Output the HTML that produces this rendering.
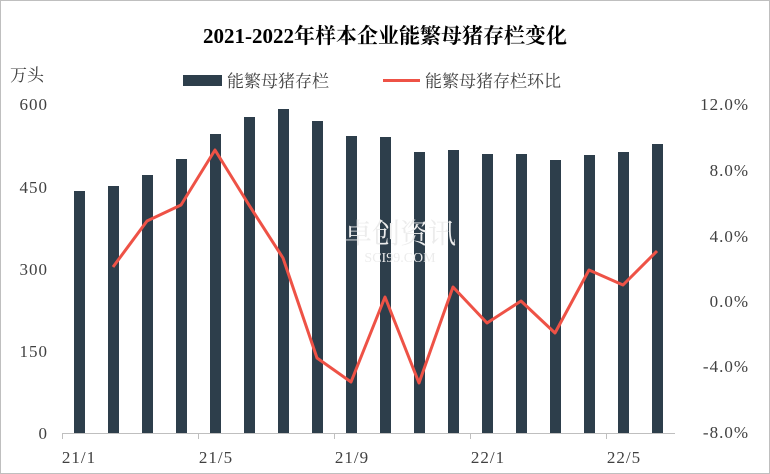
<!DOCTYPE html>
<html><head><meta charset="utf-8"><style>
html,body{margin:0;padding:0;background:#fff;}
svg{display:block;}
text{font-family:"Liberation Serif","Noto Serif CJK SC","Noto Sans CJK SC",serif;fill:#404040;}
</style></head><body>
<svg width="770" height="474" viewBox="0 0 770 474" xmlns="http://www.w3.org/2000/svg">
<rect x="0.5" y="0.5" width="769" height="473" fill="#fff" stroke="#bfbfbf"/>
<text x="385" y="43" text-anchor="middle" font-size="21" font-weight="bold" style="fill:#000">2021-2022年样本企业能繁母猪存栏变化</text>
<text x="10" y="81" font-size="17">万头</text>
<rect x="183" y="75" width="39" height="11" fill="#2d3e4b"/>
<text x="227" y="87" font-size="17">能繁母猪存栏</text>
<line x1="383" y1="80.5" x2="420" y2="80.5" stroke="#ee5246" stroke-width="3"/>
<text x="425" y="87" font-size="17">能繁母猪存栏环比</text>
<g font-size="17" text-anchor="end" letter-spacing="1">
<text x="48" y="110">600</text><text x="48" y="193">450</text><text x="48" y="275">300</text><text x="48" y="357">150</text><text x="48" y="439">0</text>
</g>
<g font-size="17" text-anchor="end" letter-spacing="1">
<text x="749" y="110">12.0%</text><text x="749" y="176">8.0%</text><text x="749" y="242">4.0%</text><text x="749" y="307">0.0%</text><text x="749" y="372">-4.0%</text><text x="749" y="438">-8.0%</text>
</g>
<g fill="#2d3e4b">
<rect x="74" y="191" width="11" height="242"/>
<rect x="108" y="186" width="11" height="247"/>
<rect x="142" y="175" width="11" height="258"/>
<rect x="176" y="159" width="11" height="274"/>
<rect x="210" y="134" width="11" height="299"/>
<rect x="244" y="117" width="11" height="316"/>
<rect x="278" y="109" width="11" height="324"/>
<rect x="312" y="121" width="11" height="312"/>
<rect x="346" y="136" width="11" height="297"/>
<rect x="380" y="137" width="11" height="296"/>
<rect x="414" y="152" width="11" height="281"/>
<rect x="448" y="150" width="11" height="283"/>
<rect x="482" y="154" width="11" height="279"/>
<rect x="516" y="154" width="11" height="279"/>
<rect x="550" y="160" width="11" height="273"/>
<rect x="584" y="155" width="11" height="278"/>
<rect x="618" y="152" width="11" height="281"/>
<rect x="652" y="144" width="11" height="289"/>
</g>
<line x1="62" y1="433.5" x2="675" y2="433.5" stroke="#bfbfbf"/>
<g stroke="#bfbfbf"><line x1="62.5" y1="433" x2="62.5" y2="439"/><line x1="198.5" y1="433" x2="198.5" y2="439"/><line x1="334.5" y1="433" x2="334.5" y2="439"/><line x1="470.5" y1="433" x2="470.5" y2="439"/><line x1="606.5" y1="433" x2="606.5" y2="439"/></g>
<polyline fill="none" stroke="#ee5246" stroke-width="3" stroke-linejoin="round" points="113,267 147,221 181,205 215,150 249,205 283,258 317,358 351,382 385,297 419,383 453,287 487,323 521,301 555,333 589,270 623,285 657,251"/>
<g font-size="17" text-anchor="middle" letter-spacing="1">
<text x="79" y="463">21/1</text><text x="216" y="463">21/5</text><text x="352" y="463">21/9</text><text x="488" y="463">22/1</text><text x="624" y="463">22/5</text>
</g>
<text x="400" y="243" text-anchor="middle" font-size="28" style="fill:#ececec">卓创资讯</text>
<text x="400" y="262" text-anchor="middle" font-size="14" style="fill:#ececec">SCI99.COM</text>
</svg>
</body></html>
